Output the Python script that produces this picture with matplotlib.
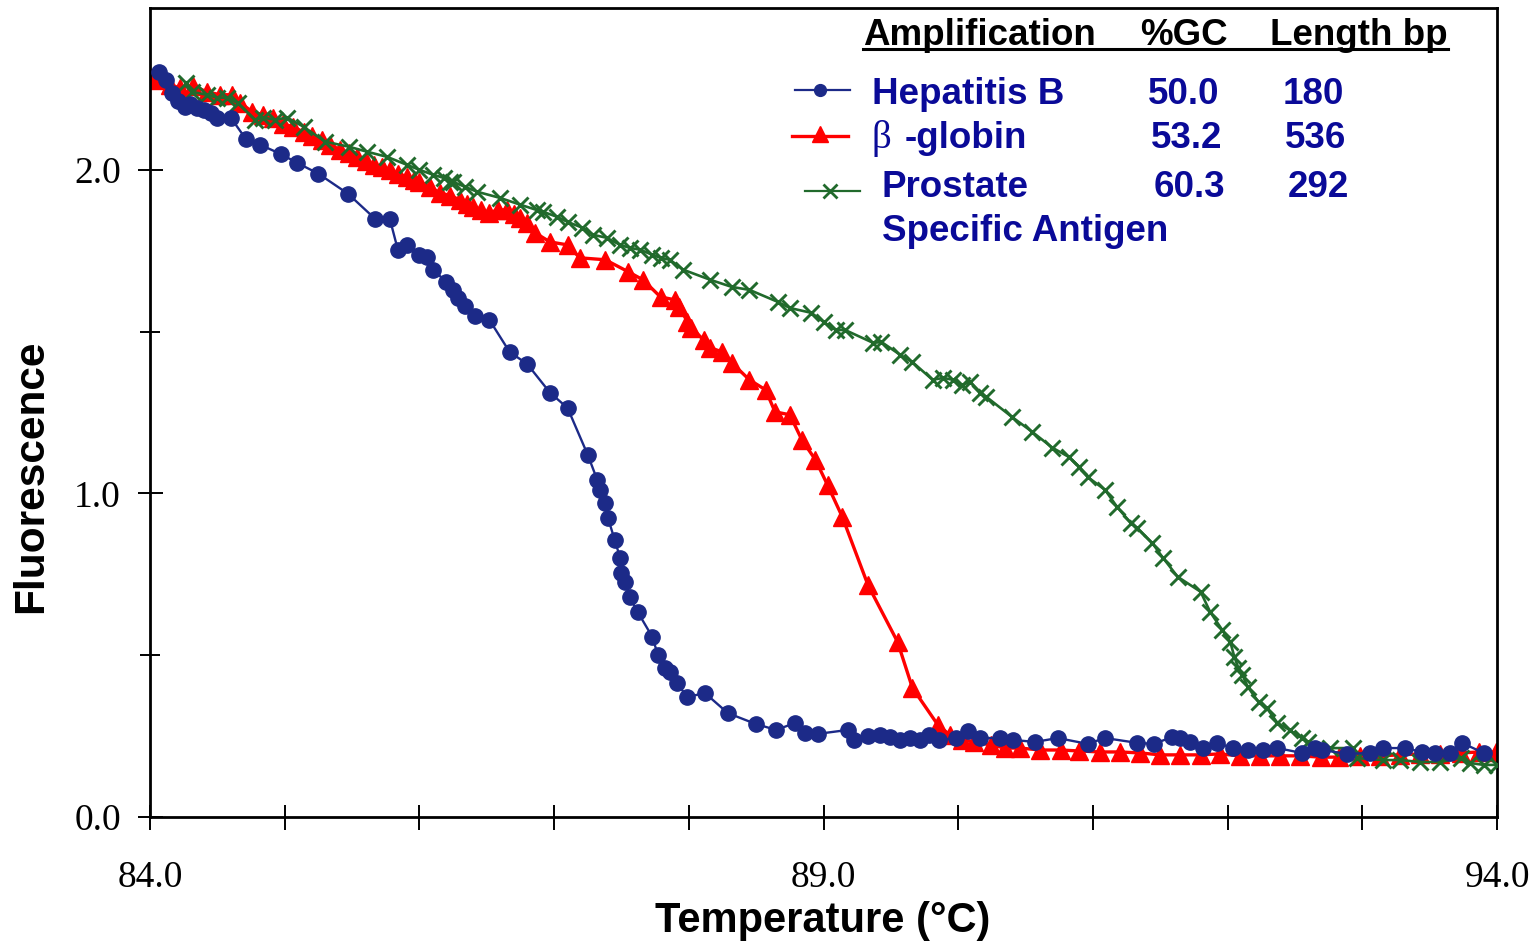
import matplotlib
matplotlib.use("Agg")
import matplotlib.pyplot as plt
from matplotlib.lines import Line2D

# ---- melting-curve data: temperature (°C) and fluorescence ----
temp_hbv = [84.07, 84.12, 84.16, 84.21, 84.26, 84.30, 84.35, 84.40, 84.45, 84.50,
            84.60, 84.71, 84.82, 84.97, 85.09, 85.25, 85.47, 85.67, 85.78, 85.84,
            85.91, 86.00, 86.06, 86.10, 86.20, 86.25, 86.29, 86.34, 86.41, 86.52,
            86.67, 86.80, 86.97, 87.10, 87.25, 87.32, 87.34, 87.38, 87.40, 87.45,
            87.49, 87.50, 87.53, 87.56, 87.62, 87.73, 87.77, 87.82, 87.86, 87.91,
            87.99, 88.12, 88.29, 88.50, 88.65, 88.79, 88.86, 88.96, 89.18, 89.23,
            89.33, 89.42, 89.49, 89.57, 89.64, 89.72, 89.78, 89.86, 89.98, 90.07,
            90.16, 90.31, 90.41, 90.57, 90.74, 90.96, 91.09, 91.33, 91.45, 91.59,
            91.65, 91.72, 91.82, 91.92, 92.04, 92.15, 92.26, 92.37, 92.55, 92.65,
            92.70, 92.89, 93.06, 93.15, 93.32, 93.44, 93.54, 93.65, 93.74, 93.90]
fluor_hbv = [2.303, 2.278, 2.238, 2.213, 2.195, 2.204, 2.192, 2.185, 2.176, 2.161,
             2.161, 2.096, 2.077, 2.049, 2.022, 1.988, 1.926, 1.849, 1.849, 1.753,
             1.768, 1.737, 1.731, 1.691, 1.654, 1.629, 1.604, 1.580, 1.549, 1.536,
             1.437, 1.400, 1.311, 1.264, 1.119, 1.042, 1.011, 0.971, 0.924, 0.856,
             0.801, 0.754, 0.726, 0.680, 0.634, 0.556, 0.501, 0.461, 0.448, 0.414,
             0.371, 0.383, 0.321, 0.287, 0.269, 0.291, 0.260, 0.257, 0.269, 0.238,
             0.250, 0.253, 0.247, 0.238, 0.244, 0.238, 0.253, 0.238, 0.244, 0.266,
             0.244, 0.244, 0.238, 0.232, 0.244, 0.226, 0.244, 0.229, 0.226, 0.247,
             0.244, 0.232, 0.213, 0.229, 0.213, 0.207, 0.207, 0.213, 0.198, 0.213,
             0.207, 0.195, 0.198, 0.213, 0.213, 0.201, 0.198, 0.198, 0.229, 0.198]

temp_globin = [84.01, 84.07, 84.15, 84.22, 84.32, 84.42, 84.52, 84.61, 84.67, 84.76,
               84.84, 84.91, 84.99, 85.06, 85.14, 85.20, 85.28, 85.34, 85.41, 85.48,
               85.54, 85.60, 85.66, 85.72, 85.78, 85.84, 85.91, 85.96, 86.00, 86.08,
               86.15, 86.23, 86.30, 86.35, 86.40, 86.46, 86.52, 86.58, 86.65, 86.70,
               86.75, 86.80, 86.86, 86.97, 87.10, 87.19, 87.38, 87.55, 87.66, 87.79,
               87.90, 87.93, 87.99, 88.02, 88.11, 88.16, 88.25, 88.32, 88.45, 88.57,
               88.64, 88.75, 88.84, 88.94, 89.03, 89.14, 89.33, 89.55, 89.66, 89.85,
               89.94, 90.03, 90.12, 90.24, 90.35, 90.46, 90.61, 90.76, 90.90, 91.05,
               91.20, 91.35, 91.50, 91.65, 91.80, 91.94, 92.09, 92.24, 92.39, 92.54,
               92.69, 92.83, 92.98, 93.13, 93.28, 93.43, 93.58, 93.73, 93.87, 93.99]
fluor_globin = [2.284, 2.278, 2.263, 2.253, 2.260, 2.241, 2.232, 2.232, 2.207, 2.179,
                2.170, 2.161, 2.142, 2.133, 2.117, 2.105, 2.093, 2.077, 2.062, 2.053,
                2.040, 2.028, 2.015, 2.009, 2.000, 1.988, 1.978, 1.969, 1.963, 1.947,
                1.929, 1.920, 1.907, 1.895, 1.886, 1.876, 1.867, 1.876, 1.876, 1.864,
                1.852, 1.836, 1.805, 1.777, 1.768, 1.728, 1.722, 1.685, 1.660, 1.607,
                1.598, 1.576, 1.530, 1.512, 1.474, 1.450, 1.437, 1.403, 1.351, 1.320,
                1.252, 1.243, 1.165, 1.104, 1.026, 0.927, 0.717, 0.541, 0.399, 0.284,
                0.253, 0.238, 0.232, 0.223, 0.213, 0.213, 0.207, 0.207, 0.204, 0.201,
                0.201, 0.198, 0.192, 0.192, 0.192, 0.195, 0.189, 0.189, 0.189, 0.189,
                0.185, 0.185, 0.189, 0.189, 0.192, 0.195, 0.195, 0.198, 0.201, 0.201]

temp_psa = [84.27, 84.31, 84.42, 84.50, 84.57, 84.65, 84.78, 84.84, 84.93, 85.02,
            85.14, 85.30, 85.48, 85.61, 85.76, 85.91, 86.00, 86.10, 86.18, 86.23,
            86.25, 86.34, 86.43, 86.60, 86.75, 86.87, 86.92, 87.02, 87.10, 87.21,
            87.29, 87.39, 87.49, 87.56, 87.64, 87.73, 87.79, 87.86, 87.96, 88.16,
            88.32, 88.45, 88.66, 88.75, 88.91, 89.00, 89.09, 89.16, 89.37, 89.43,
            89.57, 89.66, 89.81, 89.89, 89.96, 90.03, 90.09, 90.16, 90.21, 90.40,
            90.55, 90.70, 90.82, 90.90, 90.96, 91.09, 91.18, 91.28, 91.33, 91.44,
            91.52, 91.63, 91.80, 91.87, 91.96, 92.02, 92.05, 92.08, 92.11, 92.15,
            92.23, 92.29, 92.37, 92.46, 92.55, 92.60, 92.76, 92.93, 92.96, 93.15,
            93.28, 93.43, 93.58, 93.73, 93.80, 93.90, 94.00]
fluor_psa = [2.269, 2.241, 2.232, 2.223, 2.223, 2.207, 2.155, 2.161, 2.155, 2.161,
             2.133, 2.087, 2.071, 2.056, 2.040, 2.015, 2.000, 1.985, 1.975, 1.963,
             1.963, 1.947, 1.932, 1.913, 1.892, 1.876, 1.870, 1.855, 1.839, 1.821,
             1.799, 1.790, 1.768, 1.759, 1.753, 1.737, 1.728, 1.722, 1.691, 1.660,
             1.638, 1.629, 1.592, 1.573, 1.558, 1.530, 1.505, 1.505, 1.465, 1.468,
             1.428, 1.406, 1.351, 1.357, 1.351, 1.335, 1.345, 1.311, 1.298, 1.236,
             1.190, 1.141, 1.113, 1.082, 1.051, 1.011, 0.958, 0.909, 0.893, 0.847,
             0.801, 0.742, 0.696, 0.634, 0.578, 0.541, 0.495, 0.461, 0.439, 0.402,
             0.355, 0.337, 0.291, 0.269, 0.244, 0.232, 0.213, 0.213, 0.182, 0.176,
             0.176, 0.170, 0.170, 0.182, 0.167, 0.161, 0.161]

# ---- table shown in the upper right ----
table_header = ["Amplification", "%GC", "Length bp"]
amplicons = ["Hepatitis B", "-globin", "Prostate"]
gc_content = ["50.0", "53.2", "60.3"]
length_bp = ["180", "536", "292"]

x_ticks = list(range(84, 95))
x_tick_labels = ["84.0", "", "", "", "", "89.0", "", "", "", "", "94.0"]
y_ticks = [0.0, 1.0, 2.0]
y_tick_labels = ["0.0", "1.0", "2.0"]
y_minor_ticks = [0.5, 1.5]

BLUE = "#1c2a88"
RED = "#ff0000"
GREEN = "#216a2c"
TEXT_BLUE = "#0a0a98"
SANS = ["Liberation Sans", "DejaVu Sans"]
SERIF = ["Liberation Serif", "DejaVu Serif"]

W, H = 1539, 944
fig = plt.figure(figsize=(W / 100, H / 100), dpi=100)
fig.patch.set_facecolor("white")


def fx(px):
    return px / W


def fy(py):
    return 1 - py / H


ax = fig.add_axes([fx(150), fy(817), fx(1497) - fx(150), fy(8) - fy(817)])

ax.plot(temp_globin, fluor_globin, color=RED, lw=2.4, marker="^", ms=13,
        mec=RED, mfc=RED, zorder=2)
ax.plot(temp_psa, fluor_psa, color=GREEN, lw=1.9, marker="x", ms=11.5,
        mew=2.1, mec=GREEN, zorder=3)
ax.plot(temp_hbv, fluor_hbv, color=BLUE, lw=1.7, marker="o", ms=11,
        mec=BLUE, mfc=BLUE, zorder=4)

ax.set_xlim(84, 94)
ax.set_ylim(0, 2.5)

ax.set_xticks(x_ticks)
ax.set_xticklabels(x_tick_labels)
ax.set_yticks(y_ticks)
ax.set_yticklabels(y_tick_labels)
ax.set_yticks(y_minor_ticks, minor=True)

ax.tick_params(axis="both", which="major", direction="inout", length=18,
               width=1.4, color="black", labelsize=27)
ax.tick_params(axis="y", which="minor", direction="inout", length=14,
               width=1.4, color="black")
ax.tick_params(axis="x", which="major", pad=22)
ax.tick_params(axis="y", which="major", pad=12)
for lab in ax.get_xticklabels() + ax.get_yticklabels():
    lab.set_family(SERIF)

for side in ["left", "right", "top", "bottom"]:
    ax.spines[side].set_linewidth(2.0)
    ax.spines[side].set_color("black")

# axis titles
fig.text(fx(823), fy(921), "Temperature (°C)", ha="center", va="center",
         fontsize=30, fontweight="bold", family=SANS, color="black")
fig.text(fx(31), fy(476), "Fluorescence", ha="center", va="center",
         rotation=90, fontsize=30.5, fontweight="bold", family=SANS, color="black")

# table header with underline
hdr_x = [863, 1140, 1270]
for label, px in zip(table_header, hdr_x):
    fig.text(fx(px), fy(45), label, ha="left", va="baseline", fontsize=26.5,
             fontweight="bold", family=SANS, color="black")
fig.add_artist(Line2D([fx(863), fx(1448)], [fy(49), fy(49)],
                      transform=fig.transFigure, color="black", lw=2.2))

# table rows
row_base = [104, 148, 197]
name_x = [872, 905, 882]
gc_x = [1148, 1151, 1154]
len_x = [1283, 1285, 1288]
for i in range(3):
    fig.text(fx(name_x[i]), fy(row_base[i]), amplicons[i], ha="left",
             va="baseline", fontsize=26.5, fontweight="bold", family=SANS,
             color=TEXT_BLUE)
    fig.text(fx(gc_x[i]), fy(row_base[i]), gc_content[i], ha="left",
             va="baseline", fontsize=26.5, fontweight="bold", family=SANS,
             color=TEXT_BLUE)
    fig.text(fx(len_x[i]), fy(row_base[i]), length_bp[i], ha="left",
             va="baseline", fontsize=26.5, fontweight="bold", family=SANS,
             color=TEXT_BLUE)
fig.text(fx(872), fy(148), "β", ha="left", va="baseline", fontsize=28,
         family=SERIF, color=TEXT_BLUE)
fig.text(fx(882), fy(241), "Specific Antigen", ha="left", va="baseline",
         fontsize=26.5, fontweight="bold", family=SANS, color=TEXT_BLUE)

# legend keys
fig.add_artist(Line2D([fx(795), fx(850)], [fy(90), fy(90)],
                      transform=fig.transFigure, color=BLUE, lw=1.6))
fig.add_artist(Line2D([fx(820)], [fy(90)], transform=fig.transFigure,
                      marker="o", ms=8.5, color=BLUE, lw=0))
fig.add_artist(Line2D([fx(792), fx(848)], [fy(136), fy(136)],
                      transform=fig.transFigure, color=RED, lw=2.4))
fig.add_artist(Line2D([fx(820)], [fy(134)], transform=fig.transFigure,
                      marker="^", ms=12, color=RED, lw=0))
fig.add_artist(Line2D([fx(805), fx(860)], [fy(191), fy(191)],
                      transform=fig.transFigure, color=GREEN, lw=1.6))
fig.add_artist(Line2D([fx(830)], [fy(191)], transform=fig.transFigure,
                      marker="x", ms=10.5, mew=2.0, color=GREEN, lw=0))

fig.savefig("out.png", dpi=100, facecolor="white")
